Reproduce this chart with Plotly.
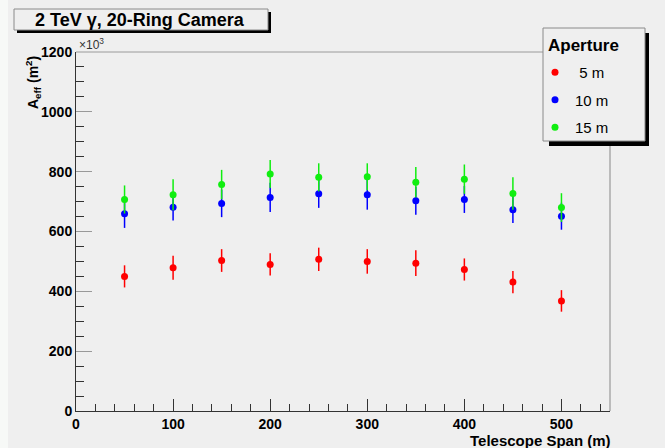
import plotly.graph_objects as go

# Effective area (x10^3 m^2) versus telescope span, one series per mirror aperture
span = [50, 100, 150, 200, 250, 300, 350, 400, 450, 500]
aperture_labels = [" 5 m", "10 m", "15 m"]
area_5m = [450, 479, 503, 490, 507, 500, 494, 473, 431, 368]
err_5m = [37, 40, 38, 37, 39, 41, 43, 37, 37, 36]
area_10m = [659, 681, 694, 714, 726, 723, 703, 707, 673, 651]
err_10m = [47, 44, 46, 49, 47, 50, 47, 45, 45, 45]
area_15m = [707, 723, 757, 792, 781, 783, 765, 775, 727, 680]
err_15m = [47, 52, 49, 47, 47, 45, 51, 49, 54, 48]
y_ticks = [0, 200, 400, 600, 800, 1000, 1200]
x_ticks = [0, 100, 200, 300, 400, 500]

W, H = 665, 448
L, R, T, B = 76, 55, 52, 37
PW, PH = W - L - R, H - T - B
BG = "#efefef"
FONT = "Liberation Sans"


def px(x):
    return (x - L) / PW


def py(y):
    return (H - B - y) / PH


fig = go.Figure()
series = [(area_5m, err_5m, "#ff0000"), (area_10m, err_10m, "#0000ff"), (area_15m, err_15m, "#10ee10")]
for i, (vals, errs, col) in enumerate(series):
    fig.add_trace(go.Scatter(
        x=span, y=vals, mode="markers", name=aperture_labels[i],
        legendgroup=f"g{i}",
        marker=dict(symbol="circle", size=7, color=col),
        error_y=dict(type="data", array=errs, color=col, thickness=1.5, width=0),
    ))

shapes = []
# light strip at the left edge of the canvas
shapes.append(dict(type="rect", xref="paper", yref="paper", x0=px(0), x1=px(8), y0=py(H), y1=py(0),
                   fillcolor="#f7f9f7", line=dict(width=0), layer="below"))
# upper and right frame lines
shapes.append(dict(type="line", xref="paper", yref="paper", x0=0, x1=1, y0=1, y1=1,
                   line=dict(color="#9a9a9a", width=1)))
shapes.append(dict(type="line", xref="paper", yref="paper", x0=1, x1=1, y0=0, y1=1,
                   line=dict(color="#aaaaaa", width=1.5)))
# title box with shadow
shapes.append(dict(type="rect", xref="paper", yref="paper", x0=px(17), x1=px(271), y0=py(33), y1=py(12),
                   fillcolor="#000000", line=dict(width=0)))
shapes.append(dict(type="rect", xref="paper", yref="paper", x0=px(14), x1=px(268), y0=py(30), y1=py(9),
                   fillcolor=BG, line=dict(color="#8a8a8a", width=1)))
# legend box with shadow
shapes.append(dict(type="rect", xref="paper", yref="paper", x0=px(549), x1=px(649), y0=py(146), y1=py(33),
                   fillcolor="#000000", line=dict(width=0)))
shapes.append(dict(type="rect", xref="paper", yref="paper", x0=px(543), x1=px(645), y0=py(141), y1=py(28),
                   fillcolor=BG, line=dict(color="#8a8a8a", width=1)))

annotations = [
    dict(text="<b>2 TeV \u03b3, 20-Ring Camera</b>", xref="paper", yref="paper", x=px(140), y=py(20),
         xanchor="center", yanchor="middle", showarrow=False,
         font=dict(family=FONT, size=18, color="#000000")),
    dict(text="\u00d710<sup>3</sup>", xref="paper", yref="paper", x=px(77), y=py(44),
         xanchor="left", yanchor="middle", showarrow=False,
         font=dict(family=FONT, size=12, color="#333333")),
    dict(text="<b>A<sub>eff</sub> (m<sup>2</sup>)</b>", xref="paper", yref="paper", x=px(33), y=py(83),
         xanchor="center", yanchor="middle", textangle=-90, showarrow=False,
         font=dict(family=FONT, size=14, color="#000000")),
    dict(text="<b>Telescope Span (m)</b>", xref="paper", yref="paper", x=px(613), y=py(440),
         xanchor="right", yanchor="middle", showarrow=False,
         font=dict(family=FONT, size=15, color="#000000")),
    dict(text="<b>Aperture</b>", xref="paper", yref="paper", x=px(546), y=py(45),
         xanchor="left", yanchor="middle", showarrow=False,
         font=dict(family=FONT, size=17, color="#000000")),
]

axis_common = dict(
    showgrid=False, zeroline=False, showline=True, linecolor="#333333", linewidth=1,
    ticks="inside", tickwidth=1,
    tickfont=dict(family=FONT, size=14, color="#000000", weight="bold"),
)

fig.update_layout(
    width=W, height=H,
    margin=dict(l=L, r=R, t=T, b=B, pad=0),
    paper_bgcolor=BG, plot_bgcolor=BG,
    xaxis=dict(range=[0, 550], tickvals=x_ticks, ticklen=12, tickcolor="#333333",
               minor=dict(dtick=20, ticks="inside", ticklen=7, tickcolor="#333333", showgrid=False),
               **axis_common),
    yaxis=dict(range=[0, 1200], tickvals=y_ticks, ticklen=16, tickcolor="#999999",
               minor=dict(dtick=50, ticks="inside", ticklen=8, tickcolor="#333333", showgrid=False),
               **axis_common),
    shapes=shapes,
    annotations=annotations,
    showlegend=True,
    legend=dict(x=px(535), y=py(56), xanchor="left", yanchor="top",
                bgcolor="rgba(0,0,0,0)", borderwidth=0,
                font=dict(family=FONT, size=15, color="#000000"),
                tracegroupgap=5, traceorder="grouped", itemwidth=30),
)

fig.write_html("out.html")
